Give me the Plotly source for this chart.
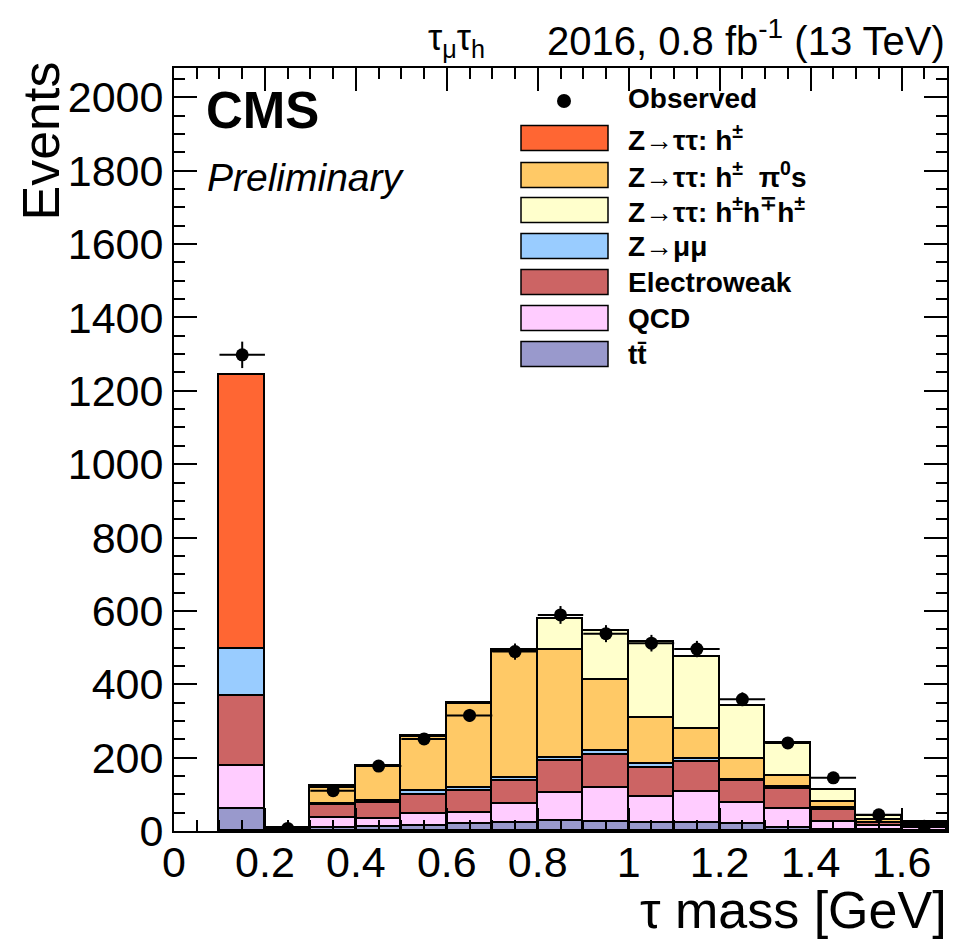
import numpy as np
import plotly.graph_objects as go

# ---------------- data ----------------
bin_centers = [0.15, 0.25, 0.35, 0.45, 0.55, 0.65, 0.75, 0.85, 0.95, 1.05, 1.15, 1.25, 1.35, 1.45, 1.55, 1.65]
bin_width = 0.1

ttbar      = [59, 1, 9, 10, 13, 19, 23, 27, 25, 23, 23, 19, 9, 3, 2, 1]
qcd        = [118, 2, 26, 23, 32, 31, 50, 76, 93, 69, 84, 58, 50, 22, 11, 7]
ewk        = [191, 3, 35, 44, 52, 60, 62, 88, 90, 81, 80, 59, 56, 31, 9, 6]
zmumu      = [127, 1, 4, 5, 12, 7, 9, 9, 9, 9, 8, 3, 4, 6, 1, 1]
ztt_1prong = [748, 0, 0, 0, 0, 0, 0, 0, 0, 0, 0, 0, 0, 0, 0, 0]
ztt_1pi0   = [0, 1, 42, 95, 148, 230, 343, 294, 194, 127, 82, 56, 30, 18, 6, 5]
ztt_3prong = [0, 0, 6, 1, 2, 2, 7, 84, 134, 207, 196, 146, 91, 33, 12, 5]

observed = [1298, 7, 110, 177, 251, 315, 489, 589, 538, 512, 496, 359, 240, 145, 44, 13]

# stacking order, bottom to top
stack_names = ["tt̄", "QCD", "Electroweak", "Z→μμ", "Z→ττ: h<sup>±</sup>",
               "Z→ττ: h<sup>±</sup>  π<sup>0</sup>s", "Z→ττ: h<sup>±</sup>h<sup>∓</sup>h<sup>±</sup>"]
stack_values = [ttbar, qcd, ewk, zmumu, ztt_1prong, ztt_1pi0, ztt_3prong]
stack_colors = ["#9999cc", "#ffccff", "#cc6464", "#99ccff", "#ff6633", "#ffc966", "#ffffcc"]

# legend order, top to bottom (indices into stack lists)
legend_order = [4, 5, 6, 3, 2, 1, 0]

x_ticks = [0, 0.2, 0.4, 0.6, 0.8, 1.0, 1.2, 1.4, 1.6]
y_ticks = [0, 200, 400, 600, 800, 1000, 1200, 1400, 1600, 1800, 2000]

# ---------------- figure ----------------
fig = go.Figure()
for name, vals, col in zip(stack_names, stack_values, stack_colors):
    fig.add_trace(go.Bar(
        x=bin_centers, y=vals, width=bin_width, name=name,
        marker=dict(color=col, line=dict(color="black", width=1.8)),
        showlegend=False,
    ))

err = np.sqrt(np.array(observed, dtype=float))
fig.add_trace(go.Scatter(
    x=bin_centers, y=observed, mode="markers", name="Observed",
    marker=dict(color="black", size=13),
    error_y=dict(type="data", array=err, color="black", thickness=2, width=0),
    error_x=dict(type="constant", value=bin_width / 2, color="black", thickness=2, width=0),
    showlegend=False,
))

FONT = "Liberation Sans, Arial, Helvetica, sans-serif"

axis_common = dict(
    showline=True, linecolor="black", linewidth=2, mirror="ticks",
    ticks="inside", tickcolor="black", tickwidth=1.5, ticklen=23,
    showgrid=False, zeroline=False,
    tickfont=dict(family=FONT, size=43, color="black"),
)
fig.update_xaxes(range=[0, 1.7], tickvals=x_ticks,
                 ticktext=[("%g" % v) for v in x_ticks],
                 ticklabelstandoff=-8,
                 minor=dict(dtick=0.05, tick0=0, ticks="inside", ticklen=11,
                            tickcolor="black", tickwidth=1.5),
                 **axis_common)
fig.update_yaxes(range=[0, 2080], tickvals=y_ticks,
                 ticktext=[str(v) for v in y_ticks],
                 minor=dict(dtick=50, tick0=0, ticks="inside", ticklen=11,
                            tickcolor="black", tickwidth=1.5),
                 **axis_common)

# page has an 8px body margin; target frame: x 174..947, y 68..831
OFF = 8
W, H = 972, 938
L, R, T, B = 174 - OFF, 33, 68 - OFF, OFF + H - 831
pw, ph = W - L - R, H - T - B

def px(x):
    return (x - OFF - L) / pw

def py(y):
    return (H - B - (y - OFF)) / ph

annotations = [
    dict(text="Events", x=px(40), y=py(60), xref="paper", yref="paper",
         xanchor="center", yanchor="top", textangle=-90, showarrow=False,
         font=dict(family=FONT, size=52, color="black")),
    dict(text="τ mass [GeV]", x=px(949), y=py(910), xref="paper", yref="paper",
         xanchor="right", yanchor="middle", showarrow=False,
         font=dict(family=FONT, size=52, color="black")),
    dict(text="2016, 0.8 fb<sup>-1</sup> (13 TeV)", x=1.0, y=py(38), xref="paper", yref="paper",
         xanchor="right", yanchor="middle", showarrow=False,
         font=dict(family=FONT, size=40, color="black")),
    dict(text="τ<sub>μ</sub>τ<sub>h</sub>", x=px(456), y=py(40), xref="paper", yref="paper",
         xanchor="center", yanchor="middle", showarrow=False,
         font=dict(family=FONT, size=36, color="black")),
    dict(text="<b>CMS</b>", x=px(204), y=py(110), xref="paper", yref="paper",
         xanchor="left", yanchor="middle", showarrow=False,
         font=dict(family=FONT, size=51, color="black")),
    dict(text="<i>Preliminary</i>", x=px(205), y=py(178), xref="paper", yref="paper",
         xanchor="left", yanchor="middle", showarrow=False,
         font=dict(family=FONT, size=39, color="black")),
]

shapes = []
# legend
leg_y = [99, 138, 175, 210, 246, 282, 318, 354]
leg_labels = ["Observed"] + [stack_names[i] for i in legend_order]
leg_colors = [None] + [stack_colors[i] for i in legend_order]
for lab, col, yc in zip(leg_labels, leg_colors, leg_y):
    annotations.append(dict(text="<b>" + lab + "</b>", x=px(626), y=py(yc),
                            xref="paper", yref="paper", xanchor="left", yanchor="middle",
                            showarrow=False, font=dict(family=FONT, size=28, color="black")))
    if col is None:
        r = 7
        shapes.append(dict(type="circle", xref="paper", yref="paper",
                           x0=px(564 - r), x1=px(564 + r), y0=py(yc + 2 + r), y1=py(yc + 2 - r),
                           fillcolor="black", line=dict(color="black", width=0)))
    else:
        shapes.append(dict(type="rect", xref="paper", yref="paper",
                           x0=px(521), x1=px(608), y0=py(yc + 12.5), y1=py(yc - 12.5),
                           fillcolor=col, line=dict(color="black", width=1.5)))

fig.update_layout(
    width=W, height=H,
    margin=dict(l=L, r=R, t=T, b=B, pad=0),
    paper_bgcolor="white", plot_bgcolor="white",
    barmode="stack", bargap=0,
    annotations=annotations, shapes=shapes,
    font=dict(family=FONT, color="black"),
)

fig.write_html("out.html")
